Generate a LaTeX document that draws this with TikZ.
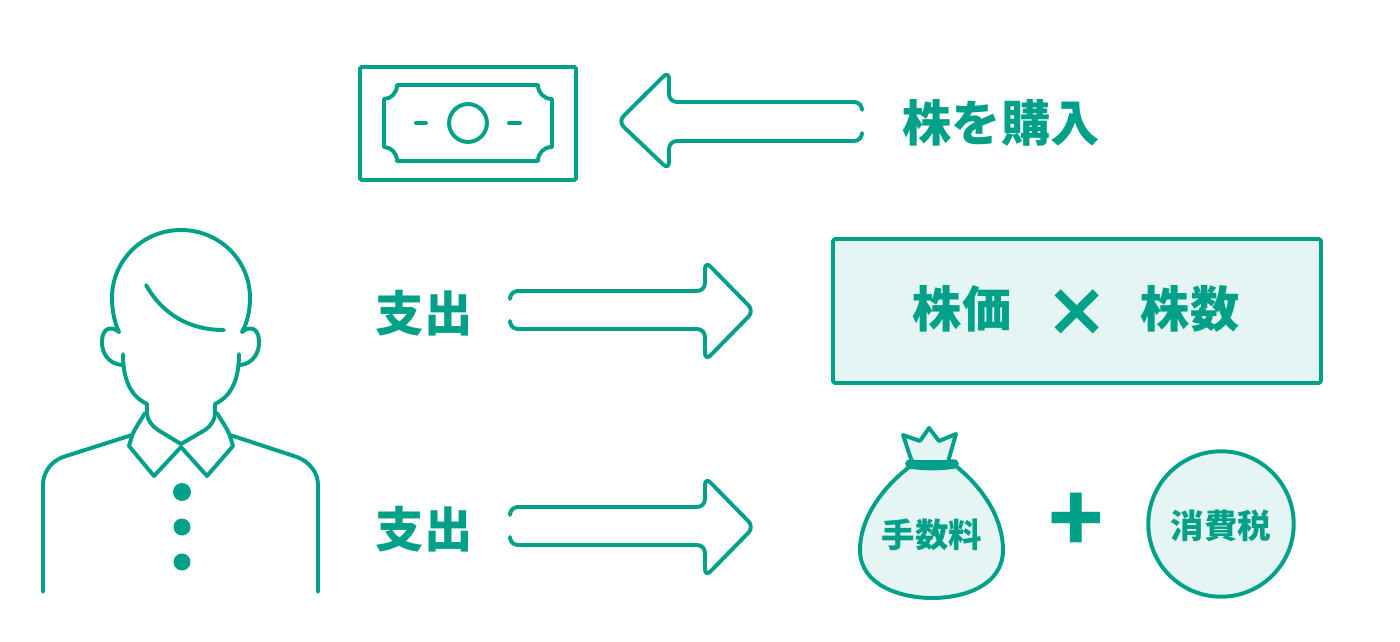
\documentclass[tikz,border=0pt]{standalone}
\usepackage{fontspec}
\newfontfamily\cjk{Noto Sans CJK JP}
\newfontfamily\signfont{DejaVu Sans}
\definecolor{KTeal}{HTML}{00A188}
\definecolor{KMint}{HTML}{E5F5F3}
\usetikzlibrary{positioning}
\tikzset{
  outline/.style={KTeal,line width=2.25pt,line join=round,line cap=round},
  label/.style={KTeal,inner sep=0pt,font=\cjk\bfseries\fontsize{#1}{#1}\selectfont},
  label/.default=28pt,
  sign/.style={KTeal,inner sep=0pt,font=#1}
}

\begin{document}
\begin{tikzpicture}[x=0.02cm,y=-0.02cm]
    \useasboundingbox (0,0) rectangle (1400,642);
    % banknote
    \draw[outline,line join=miter,rounded corners=1pt] (360,67) rectangle (576,180);
    \draw[outline] (397,85) -- (538,85) .. controls (538,93) and (544,99) .. (552,99)
      -- (552,147) .. controls (544,147) and (538,153) .. (538,161)
      -- (397,161) .. controls (397,153) and (391,147) .. (384,147)
      -- (384,99) .. controls (391,99) and (397,93) .. (397,85) -- cycle;
    \node[outline,draw,circle,minimum size=38*0.567pt,inner sep=0pt] (coin) at (468,123) {};
    \draw[outline] (416,123) -- (426,123);
    \draw[outline] (509,123) -- (520,123);
    % arrow to the left
    \draw[outline,rounded corners=4.5pt] (862,109) -- (862,102) -- (669,102) -- (669,71)
      -- (618,121.5) -- (669,170) -- (669,141) -- (862,141) -- (862,134);
    \node[label] (buy) at (1001,123) {株を購入};
    % arrows to the right
    \foreach \y/\n in {311/a,527/b}{
      \begin{scope}[yshift=-\y*0.02cm]
        \draw[outline,rounded corners=4.5pt] (510,-14) -- (510,-20) -- (705,-20) -- (705,-50)
          -- (754,0) -- (705,50) -- (705,18) -- (510,18) -- (510,11);
        \node[label=27.5pt] (spend\n) at (424,2) {支出};
      \end{scope}
    }
    % person
    \draw[outline] (119,332) .. controls (113,320) and (112,305) .. (112,298)
      .. controls (112,260) and (143,230) .. (181,230)
      .. controls (219,230) and (250,260) .. (250,298)
      .. controls (250,305) and (249,320) .. (242,332);
    \draw[outline] (119,332) .. controls (112,326) and (103,327) .. (102,340)
      .. controls (101,352) and (108,364) .. (122,365);
    \draw[outline] (242,332) .. controls (249,326) and (258,327) .. (259,340)
      .. controls (260,352) and (253,364) .. (240,365);
    \draw[outline] (146,285) .. controls (163,315) and (190,330) .. (224,330);
    \draw[outline] (123,354) .. controls (123,375) and (128,395) .. (147,404) -- (147,413)
      .. controls (147,420) and (152,426) .. (158,430) -- (181,444) -- (205,430)
      .. controls (211,426) and (215,420) .. (215,413) -- (215,404)
      .. controls (234,395) and (239,375) .. (239,354);
    % collar
    \draw[outline] (145,413) .. controls (139,423) and (134,430) .. (132,436) -- (129,446)
      -- (154,476) -- (181,447) -- (207,476) -- (233,446) -- (230,436)
      .. controls (228,430) and (223,423) .. (217,413);
    \draw[outline] (132,435) -- (63,457) .. controls (50,462) and (43,473) .. (43,485) -- (43,592);
    \draw[outline] (230,435) -- (297,457) .. controls (310,462) and (318,473) .. (318,485) -- (318,592);
    \foreach \y/\r in {492/9,527/8.5,562/8.5}{
      \fill[KTeal] (182,\y) circle[radius=\r];
    }
    % cost box
    \draw[outline,fill=KMint,rounded corners=1.5pt] (833,239) rectangle (1321,383);
    \node[label] (price) at (962,309) {株価};
    \node[sign=\signfont\bfseries\fontsize{43pt}{43pt}\selectfont] (times) at (1077,313) {×};
    \node[label] (shares) at (1190,309) {株数};
    % money bag
    \draw[outline,fill=KMint] (912,462) -- (903,435) -- (920,441) -- (929,428) -- (939,441)
      -- (956,434) -- (948,462) -- cycle;
    \draw[outline,fill=KMint] (908,468) .. controls (880,490) and (860,520) .. (860,550)
      .. controls (860,585) and (900,598) .. (932,598)
      .. controls (965,598) and (1003,585) .. (1003,550)
      .. controls (1003,520) and (985,490) .. (957,467);
    \draw[KTeal,line width=5.5pt,line cap=round] (910,464) .. controls (925,466) and (940,466) .. (954,464);
    \node[label=19pt] (fee) at (932,535) {手数料};
    \node[label=52pt] (plus) at (1076,523) {+};
    \node[outline,draw,fill=KMint,circle,minimum size=146*0.567pt,inner sep=0pt] (taxcircle) at (1221,524) {};
    \node[label=19pt] (tax) at (1221,526) {消費税};
\end{tikzpicture}
\end{document}
